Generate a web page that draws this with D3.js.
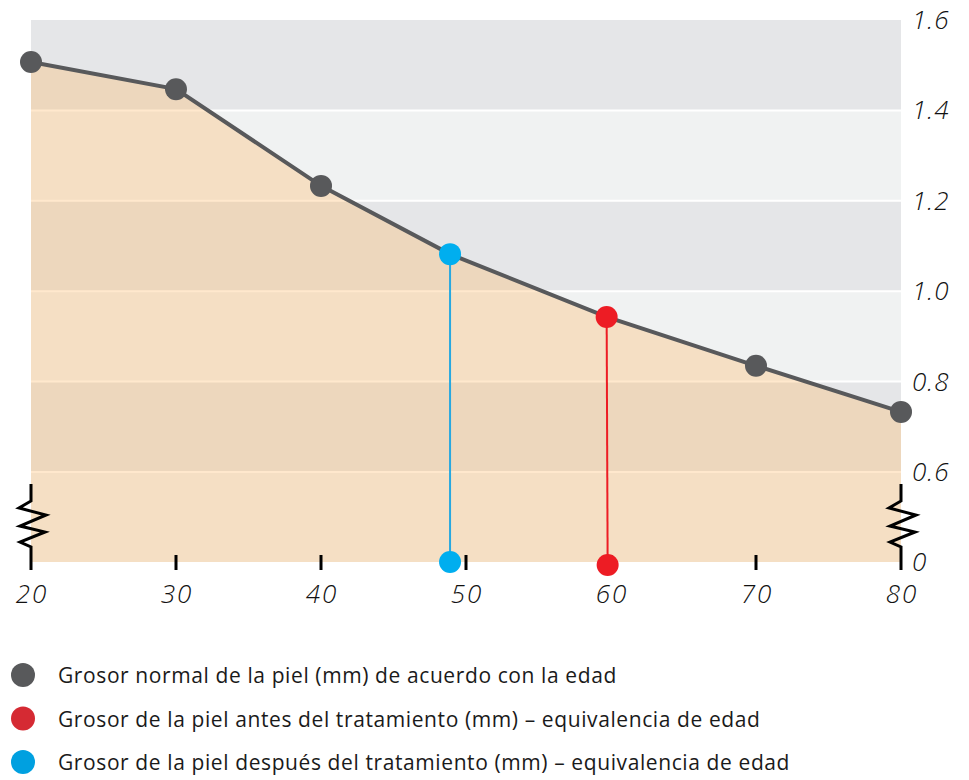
<!DOCTYPE html>
<html>
<head>
  <meta charset="utf-8">
  <title>Grosor de la piel</title>
  <script src="https://d3js.org/d3.v7.min.js"></script>
  <style>
    body { margin: 0; background: #fff; }
    text { font-family: "Open Sans", Lato, sans-serif; }
  </style>
</head>
<body>
<script>
  // edad vs grosor normal de la piel (mm)
  const ages = [20, 30, 40, 48.9, 59.7, 70, 80];
  const thickness = [1.507, 1.447, 1.233, 1.082, 0.943, 0.835, 0.733];
  const normalAges = [20, 30, 40, 70, 80];

  const after = {age: 48.9, value: 1.082};   // despues del tratamiento
  const before = {age: 59.7, value: 0.943};  // antes del tratamiento

  const xTicks = [20, 30, 40, 50, 60, 70, 80];
  const yTicks = [0, 0.6, 0.8, 1.0, 1.2, 1.4, 1.6];
  const yTickLabels = ["0", "0.6", "0.8", "1.0", "1.2", "1.4", "1.6"];
  const bands = [[1.4, 1.6], [1.2, 1.4], [1.0, 1.2], [0.8, 1.0], [0.6, 0.8], [0, 0.6]];

  const legend = [
    {label: "Grosor normal de la piel (mm) de acuerdo con la edad", color: "#58595b"},
    {label: "Grosor de la piel antes del tratamiento (mm) – equivalencia de edad", color: "#d52a33"},
    {label: "Grosor de la piel después del tratamiento (mm) – equivalencia de edad", color: "#00a0e0"}
  ];

  const width = 969, height = 780;

  const svg = d3.select("body").append("svg")
    .attr("width", width)
    .attr("height", height);

  var x = d3.scaleLinear().domain([20, 80]).range([31, 901]);
  // broken axis: 0 -> 0.6 is squeezed in one band
  var y = d3.scaleLinear().domain([0, 0.6, 1.6]).range([562, 472, 20]);

  const data = ages.map((a, i) => ({age: a, value: thickness[i]}));

  // background bands
  svg.append("g").selectAll("rect")
    .data(bands)
    .join("rect")
      .attr("x", x(20))
      .attr("width", x(80) - x(20))
      .attr("y", d => y(d[1]))
      .attr("height", d => y(d[0]) - y(d[1]))
      .attr("fill", (d, i) => i % 2 == 0 ? "#e5e6e8" : "#f0f2f2");

  svg.append("g").selectAll("line")
    .data(yTicks.filter(d => d > 0 && d < 1.6))
    .join("line")
      .attr("x1", x(20)).attr("x2", x(80))
      .attr("y1", d => y(d)).attr("y2", d => y(d))
      .attr("stroke", "#fff")
      .attr("stroke-width", 2);

  // area under the curve
  const area = d3.area()
    .x(d => x(d.age))
    .y0(y(0))
    .y1(d => y(d.value));

  svg.append("path")
    .datum(data)
    .attr("d", area)
    .attr("fill", "rgb(255,185,104)")
    .attr("fill-opacity", 0.333);

  // axis ticks
  svg.append("g").selectAll("line")
    .data(xTicks.filter(d => d != 20 && d != 80))
    .join("line")
      .attr("x1", d => x(d)).attr("x2", d => x(d))
      .attr("y1", 555).attr("y2", 570)
      .attr("stroke", "#000")
      .attr("stroke-width", 3);

  // broken axis markers
  const brk = xPos => `M${xPos},484V501L${xPos - 12},508L${xPos + 15},515L${xPos - 11},526L${xPos + 14},532L${xPos - 11},542L${xPos},547V570`;
  svg.append("g").selectAll("path")
    .data([20, 80])
    .join("path")
      .attr("d", d => brk(x(d)))
      .attr("fill", "none")
      .attr("stroke", "#000")
      .attr("stroke-width", 3)
      .attr("stroke-linejoin", "miter");

  svg.append("g")
    .style("font-size", "26px")
    .style("font-style", "italic")
    .style("font-weight", 300)
    .style("letter-spacing", "2px")
    .attr("text-anchor", "middle")
    .selectAll("text")
    .data(xTicks)
    .join("text")
      .attr("x", d => x(d) + 1)
      .attr("y", 603)
      .attr("fill", "#111")
      .text(d => d);

  svg.append("g")
    .style("font-size", "26px")
    .style("font-style", "italic")
    .style("font-weight", 300)
    .style("letter-spacing", "1px")
    .selectAll("text")
    .data(yTicks)
    .join("text")
      .attr("x", 912)
      .attr("y", d => y(d) + 9)
      .attr("fill", "#111")
      .text((d, i) => yTickLabels[i]);

  // equivalence lines
  svg.append("line")
    .attr("x1", x(after.age)).attr("x2", x(after.age))
    .attr("y1", y(after.value)).attr("y2", y(0))
    .attr("stroke", "#27a8e0").attr("stroke-width", 2);

  svg.append("line")
    .attr("x1", x(before.age)).attr("x2", x(before.age) + 1)
    .attr("y1", y(before.value)).attr("y2", y(0) + 3)
    .attr("stroke", "#ed1c24").attr("stroke-width", 2);

  // normal curve
  svg.append("path")
    .datum(data)
    .attr("d", d3.line().x(d => x(d.age)).y(d => y(d.value)))
    .attr("fill", "none")
    .attr("stroke", "#58595b")
    .attr("stroke-width", 4);

  svg.append("g").selectAll("circle")
    .data(data.filter(d => normalAges.includes(d.age)))
    .join("circle")
      .attr("cx", d => x(d.age))
      .attr("cy", d => y(d.value))
      .attr("r", 11)
      .attr("fill", "#58595b");

  svg.append("circle").attr("cx", x(after.age)).attr("cy", y(after.value)).attr("r", 11).attr("fill", "#00aeef");
  svg.append("circle").attr("cx", x(after.age)).attr("cy", y(0)).attr("r", 11).attr("fill", "#00aeef");
  svg.append("circle").attr("cx", x(before.age)).attr("cy", y(before.value)).attr("r", 11).attr("fill", "#ed1c24");
  svg.append("circle").attr("cx", x(before.age) + 1).attr("cy", y(0) + 3).attr("r", 11).attr("fill", "#ed1c24");

  // legend
  const lg = svg.append("g")
    .selectAll("g")
    .data(legend)
    .join("g")
      .attr("transform", (d, i) => `translate(0,${675 + i * 43.5})`);

  lg.append("circle")
    .attr("cx", 23)
    .attr("r", 12)
    .attr("fill", d => d.color);

  lg.append("text")
    .attr("x", 58)
    .attr("y", 8)
    .style("font-size", "21px")
    .style("letter-spacing", "0.6px")
    .attr("fill", "#1a1a1a")
    .text(d => d.label);
</script>
</body>
</html>
